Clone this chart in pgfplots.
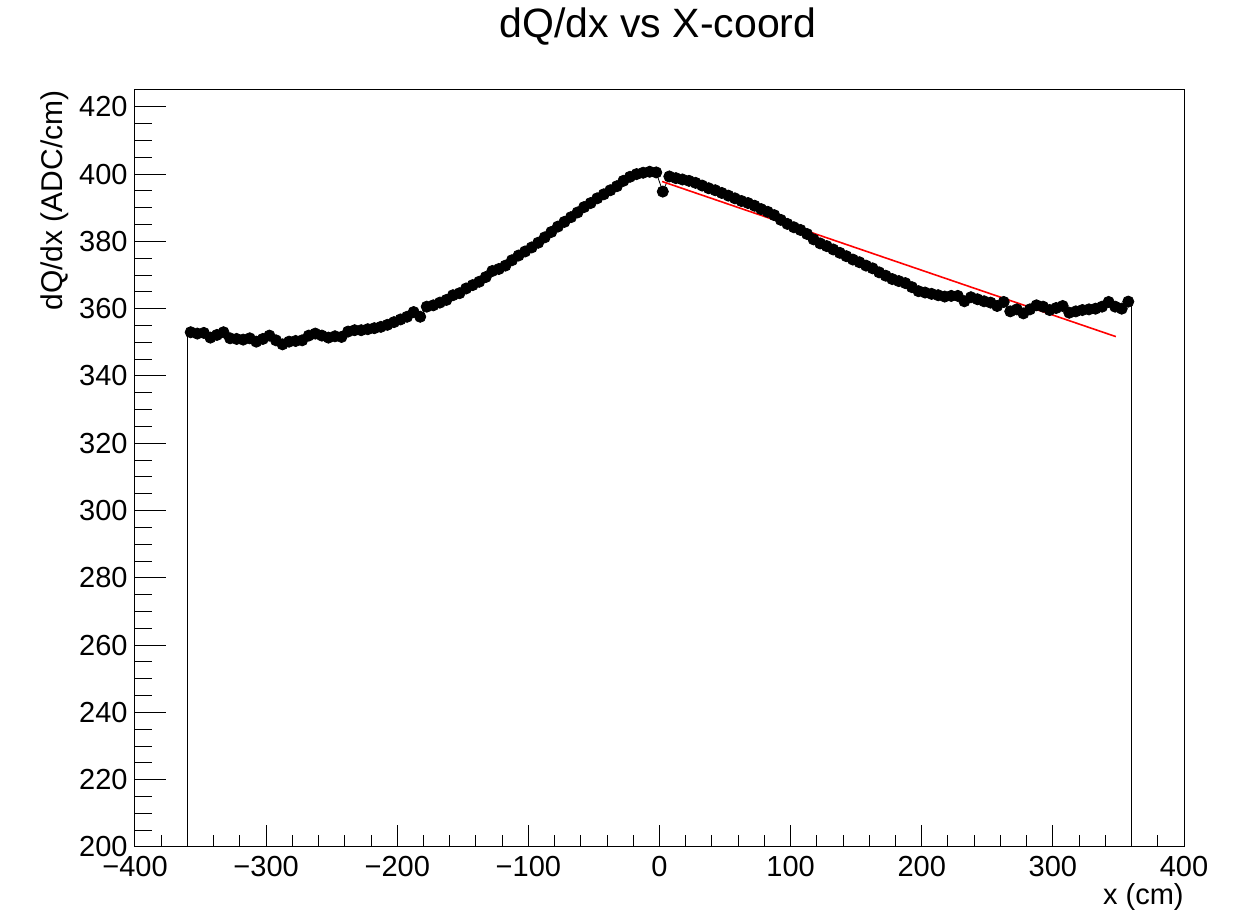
\documentclass[border=0pt]{standalone}
\usepackage{fontspec}
\setmainfont{Liberation Sans}
\usepackage{pgfplots}
\usepackage{pgfplotstable}
\pgfplotsset{compat=1.18}

% dQ/dx per 5 cm bin, bin centres
\pgfplotstableread{
x y
-357.5 353.0
-352.5 352.6
-347.5 352.8
-342.5 351.4
-337.5 352.2
-332.5 353.0
-327.5 351.2
-322.5 351.0
-317.5 350.8
-312.5 351.2
-307.5 350.2
-302.5 351.0
-297.5 352.0
-292.5 350.6
-287.5 349.4
-282.5 350.2
-277.5 350.4
-272.5 350.6
-267.5 352.0
-262.5 352.6
-257.5 352.0
-252.5 351.4
-247.5 351.8
-242.5 351.6
-237.5 353.2
-232.5 353.6
-227.5 353.6
-222.5 353.9
-217.5 354.2
-212.5 354.6
-207.5 355.2
-202.5 356.0
-197.5 356.8
-192.5 357.6
-187.5 359.0
-182.5 357.6
-177.5 360.6
-172.5 361.0
-167.5 361.8
-162.5 362.6
-157.5 364.0
-152.5 364.6
-147.5 366.0
-142.5 367.0
-137.5 368.0
-132.5 369.4
-127.5 371.2
-122.5 371.8
-117.5 372.8
-112.5 374.4
-107.5 375.8
-102.5 377.0
-97.5 378.2
-92.5 379.6
-87.5 381.2
-82.5 382.8
-77.5 384.4
-72.5 385.8
-67.5 387.2
-62.5 388.6
-57.5 390.2
-52.5 391.4
-47.5 392.8
-42.5 394.0
-37.5 395.2
-32.5 396.4
-27.5 398.0
-22.5 399.2
-17.5 400.0
-12.5 400.4
-7.5 400.7
-2.5 400.5
2.5 394.8
7.5 399.3
12.5 398.8
17.5 398.4
22.5 398.0
27.5 397.4
32.5 396.6
37.5 395.8
42.5 395.2
47.5 394.4
52.5 393.6
57.5 392.8
62.5 392.0
67.5 391.4
72.5 390.6
77.5 389.6
82.5 388.8
87.5 387.8
92.5 386.4
97.5 385.2
102.5 384.2
107.5 383.4
112.5 382.2
117.5 380.6
122.5 379.4
127.5 378.6
132.5 377.6
137.5 376.6
142.5 375.6
147.5 374.6
152.5 373.8
157.5 372.8
162.5 372.0
167.5 370.8
172.5 369.8
177.5 368.8
182.5 368.2
187.5 367.6
192.5 366.4
197.5 365.2
202.5 364.8
207.5 364.4
212.5 364.0
217.5 363.6
222.5 363.8
227.5 363.8
232.5 362.2
237.5 363.4
242.5 362.8
247.5 362.2
252.5 361.8
257.5 360.8
262.5 362.0
267.5 359.2
272.5 359.8
277.5 358.6
282.5 359.8
287.5 361.0
292.5 360.6
297.5 359.6
302.5 360.2
307.5 360.8
312.5 358.8
317.5 359.2
322.5 359.6
327.5 359.8
332.5 360.0
337.5 360.6
342.5 362.0
347.5 360.6
352.5 360.0
357.5 362.1
}\dqdx

\pgfplotsset{frame/.style={
    at={(67.5pt,34.5pt)}, anchor=south west,
    scale only axis, width=524.5pt, height=378.5pt,
    xmin=-400, xmax=400, ymin=200, ymax=425,
    tick align=inside, xtick pos=bottom, ytick pos=left,
    tick style={black, line width=0.5pt},
}}

\begin{document}
\begin{tikzpicture}
\useasboundingbox (0,0) rectangle (619pt,458pt);
% y ticks are longer than x ticks: drawn by a second, bare axis
\begin{axis}[frame,
    axis line style={draw=none},
    xtick=\empty, ytick={200,220,...,420}, yticklabels={},
    minor y tick num=3,
    major tick length=15.5pt, minor tick length=8.5pt,
]
\end{axis}
\begin{axis}[frame,
    axis line style={line width=0.5pt},
    xtick={-400,-300,...,400},
    xticklabels={−400,−300,−200,−100,0,100,200,300,400},
    ytick={200,220,...,420},
    minor x tick num=4, minor y tick num=3,
    major tick length=11pt, minor tick length=6pt,
    ytick style={draw=none},
    tick label style={font=\fontsize{14.5}{16}\selectfont},
    xticklabel style={anchor=base, yshift=-15pt},
    yticklabel style={anchor=east, inner sep=0pt, xshift=-3.5pt},
    /pgf/number format/assume math mode=true,
]
\addplot[black, line width=0.4pt] coordinates {(-360,150) (-360,353.0) (-357.5,353.0)};
\addplot[black, line width=0.4pt] coordinates {(357.5,362.1) (360,362.1) (360,150)};
\addplot[black, line width=0.4pt, mark=*, mark size=2.8pt] table {\dqdx};
\addplot[red, line width=0.8pt] coordinates {(2,397.8) (348,351.7)};
\end{axis}
\node[anchor=base, font=\fontsize{20.5}{23}\selectfont] at (329pt,439.4pt) {dQ/dx vs X-coord};
\node[anchor=base east, inner sep=0pt, font=\fontsize{14.5}{16}\selectfont] at (592pt,5.5pt) {x (cm)};
\node[rotate=90, anchor=base east, inner sep=0pt, font=\fontsize{15}{17}\selectfont] at (31pt,413pt) {dQ/dx (ADC/cm)};
\end{tikzpicture}
\end{document}
